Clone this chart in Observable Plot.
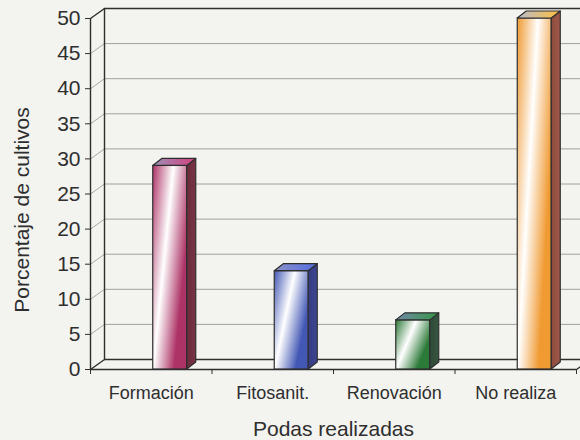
<!DOCTYPE html>
<html>
<head>
<meta charset="utf-8">
<script src="https://cdn.jsdelivr.net/npm/d3@7"></script>
<script src="https://cdn.jsdelivr.net/npm/@observablehq/plot@0.6"></script>
<style>
  html, body { margin: 0; padding: 0; background: #f3f3ef; }
  #chart svg { display: block; }
</style>
</head>
<body>
<div id="chart"></div>
<script>
// ---- data ----
const categories = ["Formación", "Fitosanit.", "Renovación", "No realiza"];
const values = [29, 14, 7, 50];
const yTicks = [0, 5, 10, 15, 20, 25, 30, 35, 40, 45, 50];
const xTitle = "Podas realizadas";
const yTitle = "Porcentaje de cultivos";

// ---- colours (front, side, top) ----
const frontColors = ["#ad3366", "#4358b5", "#2c7a38", "#f09a32"];
const sideColors = ["#6a2c3c", "#363c80", "#2f4a38", "#8c4c3e"];
const topColors = ["#9a90b8", "#8a92c8", "#7088a8", "#b8bccc"];

// ---- geometry (pixels) ----
const W = 580, H = 440;
const mL = 90, mR = 4, mT = 18, mB = 71;
const pxX = (W - mL - mR) / 4;            // px per band unit
const pxY = (H - mT - mB) / 50;           // px per value unit
const wallDX = 14, wallDY = -10;          // back wall offset
const barOff = 2 / pxX, barW = 34 / pxX;  // bar front face
const depX = 9 / pxX, depY = 7 / pxY;     // bar depth

const bars = values.map((v, i) => {
  const x1 = i + 0.5 + barOff;
  return {i, v, x1, x2: x1 + barW, cat: categories[i]};
});

const sidePts = bars.flatMap(b => [
  {i: b.i, x: b.x2, y1: 0, y2: b.v},
  {i: b.i, x: b.x2 + depX, y1: depY, y2: b.v + depY}
]);
const topPts = bars.flatMap(b => [
  {i: b.i, y: b.v, x1: b.x1, x2: b.x2},
  {i: b.i, y: b.v + depY, x1: b.x1 + depX, x2: b.x2 + depX}
]);

const ink = "#2e2e2e";
const gridInner = yTicks.filter(t => t > 0 && t < 50);

const marks = [
  // back wall grid lines
  Plot.ruleY(gridInner, {x1: 0, x2: 4.3, dx: wallDX, dy: wallDY, stroke: "#a0a0a0", strokeWidth: 1}),
  // left wall diagonal tick connectors
  Plot.link(gridInner, {x1: 0, y1: d => d, x2: wallDX / pxX, y2: d => d - wallDY / pxY, stroke: "#a8a8a8", strokeWidth: 1}),
  // back wall top border and left back edge
  Plot.ruleY([50], {x1: 0, x2: 4.3, dx: wallDX, dy: wallDY, stroke: ink, strokeWidth: 1.4}),
  Plot.ruleX([0], {y1: 0, y2: 50, dx: wallDX, dy: wallDY, stroke: ink, strokeWidth: 1.4}),
  Plot.link([50], {x1: 0, y1: d => d, x2: wallDX / pxX, y2: d => d - wallDY / pxY, stroke: ink, strokeWidth: 1.4}),
  // floor
  Plot.ruleY([0], {x1: 0, x2: 4.3, dx: wallDX, dy: wallDY, stroke: ink, strokeWidth: 1.4}),
  Plot.link([0, 4], {x1: d => d, y1: 0, x2: d => d + wallDX / pxX, y2: -wallDY / pxY, stroke: ink, strokeWidth: 1.4}),
  Plot.ruleY([0], {x1: 0, x2: 4, stroke: ink, strokeWidth: 1.4}),
  // front axis line
  Plot.ruleX([0], {y1: 0, y2: 50, stroke: ink, strokeWidth: 1.4}),
  // bars
  ...bars.map(b => Plot.rect([b], {x1: "x1", x2: "x2", y1: 0, y2: "v", fill: `url(#front${b.i})`, stroke: ink, strokeWidth: 1.2})),
  ...bars.map(b => Plot.areaY(sidePts.filter(p => p.i === b.i), {x: "x", y1: "y1", y2: "y2", fill: `url(#side${b.i})`, stroke: ink, strokeWidth: 1.2, strokeLinejoin: "round"})),
  ...bars.map(b => Plot.areaX(topPts.filter(p => p.i === b.i), {y: "y", x1: "x1", x2: "x2", fill: `url(#top${b.i})`, stroke: ink, strokeWidth: 1.2, strokeLinejoin: "round"})),
  // axes
  Plot.axisY({ticks: yTicks, tickSize: 5, tickPadding: 5, fontSize: 21, label: null, color: ink, tickFormat: d => String(d)}),
  Plot.axisX({ticks: [0, 1, 2, 3, 4], tickSize: 5, tickFormat: () => "", label: null, color: ink}),
  Plot.text(categories, {x: (d, i) => i + 0.5, y: 0, dy: 24, fontSize: 18, fill: ink}),
  Plot.text([yTitle], {frameAnchor: "left", textAnchor: "middle", rotate: -90, dx: -68, dy: 16, fontSize: 21, fill: ink}),
  Plot.text([xTitle], {frameAnchor: "bottom", dy: 66, fontSize: 21, fill: ink})
];

const chart = Plot.plot({
  width: W,
  height: H,
  marginLeft: mL,
  marginRight: mR,
  marginTop: mT,
  marginBottom: mB,
  style: {fontFamily: "'Liberation Sans', Arial, sans-serif", background: "#f3f3ef", overflow: "hidden"},
  x: {type: "linear", domain: [0, 4], axis: null},
  y: {type: "linear", domain: [0, 50], axis: null},
  marks
});

// gradients
const svg = d3.select(chart);
const defs = svg.insert("defs", ":first-child");
bars.forEach(b => {
  const f = defs.append("linearGradient").attr("id", `front${b.i}`)
    .attr("x1", 0).attr("y1", 0).attr("x2", 1).attr("y2", 0.6);
  f.append("stop").attr("offset", 0).attr("stop-color", frontColors[b.i]);
  f.append("stop").attr("offset", 0.45).attr("stop-color", "#ffffff");
  f.append("stop").attr("offset", 0.9).attr("stop-color", frontColors[b.i]);
  f.append("stop").attr("offset", 1).attr("stop-color", frontColors[b.i]);
  const s = defs.append("linearGradient").attr("id", `side${b.i}`)
    .attr("x1", 0).attr("y1", 0).attr("x2", 1).attr("y2", 0);
  s.append("stop").attr("offset", 0).attr("stop-color", sideColors[b.i]);
  s.append("stop").attr("offset", 1).attr("stop-color", d3.color(sideColors[b.i]).brighter(0.4).formatHex());
  const t = defs.append("linearGradient").attr("id", `top${b.i}`)
    .attr("x1", 0).attr("y1", 0).attr("x2", 1).attr("y2", 0);
  t.append("stop").attr("offset", 0).attr("stop-color", topColors[b.i]);
  t.append("stop").attr("offset", 1).attr("stop-color", d3.color(frontColors[b.i]).brighter(0.6).formatHex());
});

document.getElementById("chart").appendChild(chart);
</script>
</body>
</html>
